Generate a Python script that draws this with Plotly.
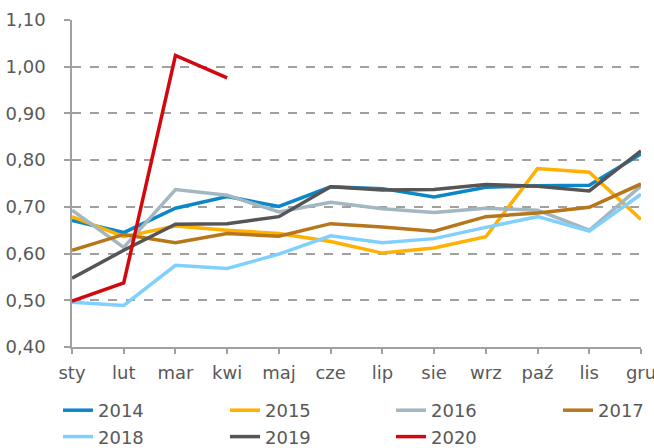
import plotly.graph_objects as go

months = ["sty", "lut", "mar", "kwi", "maj", "cze", "lip", "sie", "wrz", "paź", "lis", "gru"]

y2014 = [0.671, 0.645, 0.697, 0.722, 0.701, 0.743, 0.739, 0.721, 0.742, 0.745, 0.746, 0.813]
y2015 = [0.679, 0.636, 0.659, 0.650, 0.643, 0.626, 0.601, 0.612, 0.636, 0.782, 0.774, 0.673]
y2016 = [0.693, 0.613, 0.737, 0.725, 0.689, 0.710, 0.696, 0.688, 0.697, 0.693, 0.650, 0.745]
y2017 = [0.607, 0.641, 0.623, 0.643, 0.637, 0.664, 0.657, 0.648, 0.679, 0.687, 0.699, 0.749]
y2018 = [0.496, 0.489, 0.575, 0.568, 0.599, 0.638, 0.623, 0.632, 0.656, 0.679, 0.648, 0.727]
y2019 = [0.547, 0.607, 0.663, 0.664, 0.679, 0.743, 0.736, 0.737, 0.748, 0.744, 0.734, 0.820]
y2020 = [0.498, 0.537, 1.024, 0.976]

series = [
    ("2014", y2014, "#0B87C9", "legend"),
    ("2015", y2015, "#FFB000", "legend2"),
    ("2016", y2016, "#A2B7BF", "legend3"),
    ("2017", y2017, "#B8761A", "legend4"),
    ("2018", y2018, "#80D0FF", "legend"),
    ("2019", y2019, "#555555", "legend2"),
    ("2020", y2020, "#D2080F", "legend3"),
]

FONT = "DejaVu Sans"
TXT = "#595959"

fig = go.Figure()
for name, vals, col, lg in series:
    fig.add_trace(go.Scatter(
        x=list(range(len(vals))), y=vals, name=name, mode="lines",
        line=dict(color=col, width=3.5), legend=lg,
    ))

def leg(xpx):
    return dict(
        orientation="v", xref="container", yref="container",
        x=xpx / 654, xanchor="left", y=56 / 448, yanchor="top",
        font=dict(family=FONT, size=18, color=TXT),
        tracegroupgap=0, itemwidth=30, bgcolor="rgba(0,0,0,0)",
    )

fig.update_layout(
    width=654, height=448,
    margin=dict(l=72, r=13, t=20, b=101, autoexpand=False),
    paper_bgcolor="white", plot_bgcolor="white",
    separators=", ",
    font=dict(family=FONT, size=18, color=TXT),
    showlegend=True,
    legend=leg(58), legend2=leg(225), legend3=leg(391), legend4=leg(558),
)

fig.update_xaxes(
    range=[0, 11], tickmode="array", tickvals=list(range(12)), ticktext=months,
    showgrid=False, zeroline=False, automargin=False,
    showline=True, linecolor="#A0A0A0", linewidth=1.5,
    ticks="outside", ticklen=5, tickcolor="#A0A0A0", tickwidth=1.5,
    ticklabelstandoff=4, ticklabeloverflow="allow",
)
fig.update_yaxes(
    range=[0.4, 1.1], dtick=0.1, tick0=0.4, tickformat=".2f",
    showgrid=True, gridcolor="#A0A0A0", gridwidth=1.5, griddash="dash",
    zeroline=False, automargin=False,
    showline=True, linecolor="#A0A0A0", linewidth=1.5,
    ticks="outside", ticklen=6, tickcolor="#A0A0A0", tickwidth=1.5,
    ticklabelstandoff=15,
)

fig.write_html("out.html", config={"displayModeBar": False},
               post_script="document.body.style.margin='0';")
